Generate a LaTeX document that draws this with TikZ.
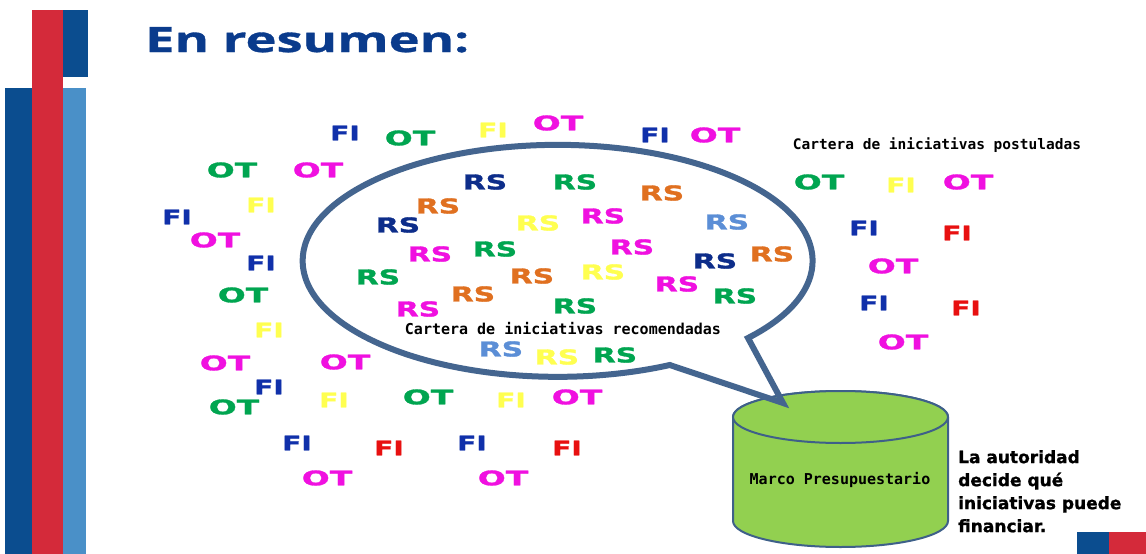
\documentclass[tikz,border=0pt]{standalone}
\usepackage{fontspec}
\newfontfamily\otfont{DejaVu Sans}[FakeStretch=1.65,FakeBold=1.5]
\newfontfamily\fifont{DejaVu Sans}[FakeStretch=1.4,FakeBold=1.5]
\newfontfamily\rsfont{DejaVu Sans}[FakeStretch=1.45,FakeBold=1.5]
\newfontfamily\titlefont{Open Sans}[FakeStretch=1.5,FakeBold=1]
\newfontfamily\pixfont{DejaVu Sans Mono}
\newfontfamily\notefont{DejaVu Sans}[FakeBold=1]
\definecolor{cB}{HTML}{1030AA}
\definecolor{cG}{HTML}{00A550}
\definecolor{cM}{HTML}{F010E0}
\definecolor{cY}{HTML}{FFFF50}
\definecolor{cR}{HTML}{E81010}
\definecolor{cN}{HTML}{0D2D8A}
\definecolor{cO}{HTML}{E07020}
\definecolor{cL}{HTML}{5B8ED6}
\definecolor{bubblecol}{HTML}{44658F}
\definecolor{cylfill}{HTML}{92D050}
\definecolor{cylline}{HTML}{3E6089}
\definecolor{titlecol}{HTML}{0A3B8C}
\definecolor{barblue}{HTML}{0B4D8F}
\definecolor{barred}{HTML}{D42A3A}
\definecolor{barlight}{HTML}{4A90C8}
\tikzset{
  lblOT/.style={inner sep=0pt, font=\otfont\bfseries\fontsize{20}{20}\selectfont},
  lblFI/.style={inner sep=0pt, font=\fifont\bfseries\fontsize{20}{20}\selectfont},
  rslbl/.style={inner sep=0pt, font=\rsfont\bfseries\fontsize{20.5}{20.5}\selectfont},
  pix/.style={inner sep=0pt, font=\pixfont\bfseries\fontsize{15}{15}\selectfont},
  note/.style={inner sep=0pt, align=left, font=\notefont\bfseries\fontsize{17}{23}\selectfont},
  titlestyle/.style={inner sep=0pt, text=titlecol, font=\titlefont\bfseries\fontsize{35}{35}\selectfont},
  bubble/.style={draw=bubblecol, line width=6pt, line join=miter},
  cyl/.style={draw=cylline, fill=cylfill, line width=2pt}
}
\begin{document}
\begin{tikzpicture}[x=1pt,y=1pt]
\useasboundingbox (0,0) rectangle (1146,-554);
\fill[white] (0,0) rectangle (1146,-554);
% left bars
\fill[barred] (32,-10) rectangle (63,-554);
\fill[barblue] (63,-10) rectangle (88,-77);
\fill[barblue] (5,-88) rectangle (32,-554);
\fill[barlight] (63,-88) rectangle (86,-554);
% bottom right
\fill[barblue] (1077,-532) rectangle (1109,-554);
\fill[barred] (1109,-532) rectangle (1146,-554);
% title
\node[titlestyle, anchor=base west] (title) at (145,-52) {En resumen:};
% cylinder
\draw[cyl] (733,-417) -- (733,-521) arc[start angle=180, end angle=360, x radius=107.5pt, y radius=26pt] -- (948,-417) arc[start angle=0, end angle=180, x radius=107.5pt, y radius=26pt] -- cycle;
\draw[cyl] (840.5,-417) ellipse[x radius=107.5pt, y radius=26pt];
\node[pix] (marco) at (840,-480) {Marco Presupuestario};
% bubble
\draw[bubble] (748,-338) arc[start angle=-41.7, end angle=296.1, x radius=255pt, y radius=116pt] -- (783,-403) -- cycle;
% postulated labels
\foreach \x/\y/\t/\c [count=\i] in {
 345/133/FI/cB, 410/138/OT/cG, 493/130/FI/cY, 558/123/OT/cM, 655/135/FI/cB, 715/135/OT/cM,
 232/170/OT/cG, 318/170/OT/cM, 819/182/OT/cG, 901/185/FI/cY, 968/182/OT/cM,
 864/228/FI/cB, 957/233/FI/cR, 893/266/OT/cM, 874/303/FI/cB, 966/308/FI/cR, 903/342/OT/cM,
 261/205/FI/cY, 177/217/FI/cB, 215/240/OT/cM, 261/263/FI/cB, 243/295/OT/cG, 269/330/FI/cY,
 225/363/OT/cM, 269/387/FI/cB, 234/407/OT/cG,
 345/362/OT/cM, 334/400/FI/cY, 428/397/OT/cG, 511/400/FI/cY, 577/397/OT/cM,
 297/443/FI/cB, 389/448/FI/cR, 472/443/FI/cB, 567/448/FI/cR, 327/478/OT/cM, 503/478/OT/cM}
 \node[lbl\t, text=\c] (p\i) at (\x,-\y) {\t};
% recommended labels
\foreach \x/\y/\c [count=\i] in {
 485/182/cN, 575/182/cG, 662/193/cO, 438/206/cO, 398/225/cN, 538/223/cY, 603/216/cM,
 727/222/cL, 430/254/cM, 495/249/cG, 632/247/cM, 715/261/cN, 772/254/cO, 378/277/cG,
 532/276/cO, 603/272/cY, 677/284/cM, 735/296/cG, 473/294/cO, 418/309/cM, 575/306/cG,
 501/349/cL, 557/357/cY, 615/355/cG}
 \node[rslbl, text=\c] (r\i) at (\x,-\y) {RS};
\node[pix] (reco) at (563,-329) {Cartera de iniciativas recomendadas};
\node[pix, font=\pixfont\bfseries\fontsize{14.5}{14.5}\selectfont] (post) at (937,-145) {Cartera de iniciativas postuladas};
\node[note, anchor=north west] (aut) at (958,-450) {La autoridad\\decide qué\\iniciativas puede\\financiar.};
\end{tikzpicture}
\end{document}
